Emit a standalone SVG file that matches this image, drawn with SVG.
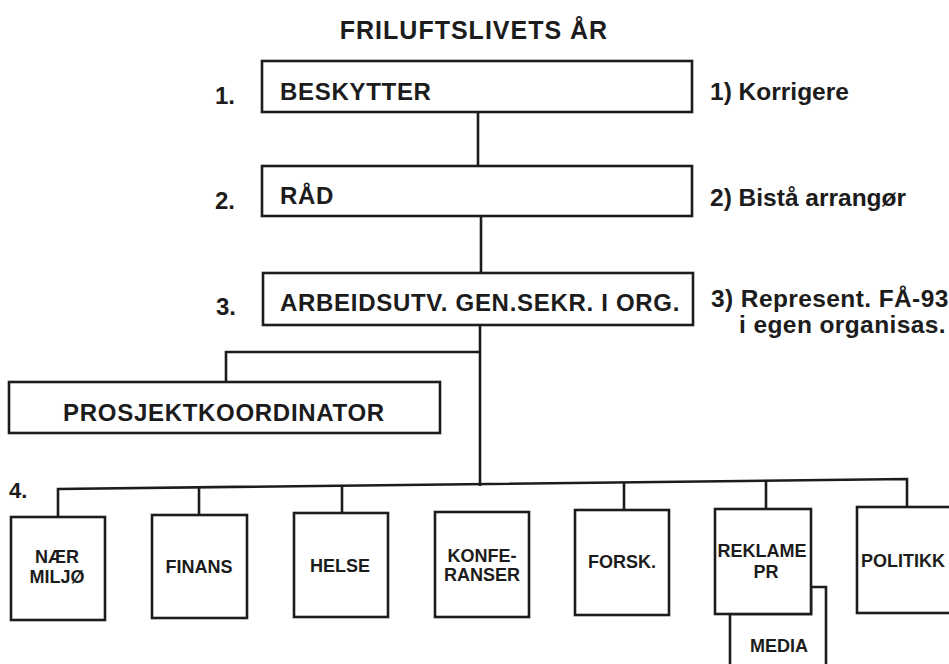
<svg xmlns="http://www.w3.org/2000/svg" width="949" height="664" viewBox="0 0 949 664">
<style>
.box{fill:#fff;stroke:#1c1c1c;stroke-width:2.6}
.ln{fill:none;stroke:#1c1c1c;stroke-width:2.6}
text{font-family:"Liberation Sans",Arial,Helvetica,sans-serif;font-weight:bold;fill:#1c1c1c}
.t{font-size:24px;letter-spacing:0.7px}
.s{font-size:24.5px}
.n{font-size:24px}
.b{font-size:18px;text-anchor:middle}
</style>
<rect width="949" height="664" fill="#fff"/>
<text x="474" y="39" font-size="25" text-anchor="middle" letter-spacing="1">FRILUFTSLIVETS ÅR</text>
<g id="connectors">
<path class="ln" d="M478 112V166"/>
<path class="ln" d="M481 216V273"/>
<path class="ln" d="M480 325V486"/>
<path class="ln" d="M480 352H226V382"/>
<path class="ln" d="M58 517V489L907 479V507"/>
<path class="ln" d="M199 515V488"/>
<path class="ln" d="M342 513V486"/>
<path class="ln" d="M624 510V483"/>
<path class="ln" d="M766 509V481"/>
</g>
<g id="n1">
<rect class="box" x="262" y="61" width="430" height="51"/>
<text class="n" x="215" y="104">1.</text>
<text class="t" x="280" y="100">BESKYTTER</text>
<text class="s" x="710" y="100">1) Korrigere</text>
</g>
<g id="n2">
<rect class="box" x="262" y="166" width="430" height="50"/>
<text class="n" x="215" y="209">2.</text>
<text class="t" x="280" y="204">RÅD</text>
<text class="s" x="710" y="206">2) Bistå arrangør</text>
</g>
<g id="n3">
<rect class="box" x="263" y="273" width="430" height="52"/>
<text class="n" x="216" y="315">3.</text>
<text class="t" x="280" y="311">ARBEIDSUTV. GEN.SEKR. I ORG.</text>
<text class="s" x="711" y="307" letter-spacing="0.4">3) Represent. FÅ-93</text>
<text class="s" x="946" y="333" text-anchor="end" letter-spacing="0.4">i egen organisas.</text>
</g>
<g id="prosjekt">
<rect class="box" x="9" y="382" width="431" height="51"/>
<text class="t" x="224" y="421" text-anchor="middle" letter-spacing="1">PROSJEKTKOORDINATOR</text>
</g>
<text x="9" y="498" font-size="22">4.</text>
<g id="naer">
<rect class="box" x="11" y="517" width="94" height="103"/>
<text class="b" x="57" y="563">NÆR</text>
<text class="b" x="57" y="583">MILJØ</text>
</g>
<g id="finans">
<rect class="box" x="152" y="515" width="95" height="103"/>
<text class="b" x="199" y="573">FINANS</text>
</g>
<g id="helse">
<rect class="box" x="294" y="513" width="94" height="104"/>
<text class="b" x="340" y="572">HELSE</text>
</g>
<g id="konferanser">
<rect class="box" x="435" y="512" width="94" height="105"/>
<text class="b" x="482" y="562">KONFE-</text>
<text class="b" x="482" y="581">RANSER</text>
</g>
<g id="forsk">
<rect class="box" x="575" y="510" width="94" height="105"/>
<text class="b" x="622" y="568">FORSK.</text>
</g>
<g id="media">
<path class="box" d="M730 664V614H811V587H826V664"/>
<text class="b" x="779" y="652">MEDIA</text>
</g>
<g id="reklame">
<rect class="box" x="715" y="509" width="96" height="105"/>
<text class="b" x="762" y="557">REKLAME</text>
<text class="b" x="766" y="578">PR</text>
</g>
<g id="politikk">
<rect class="box" x="857" y="507" width="100" height="106"/>
<text class="b" x="903" y="567">POLITIKK</text>
</g>
</svg>
